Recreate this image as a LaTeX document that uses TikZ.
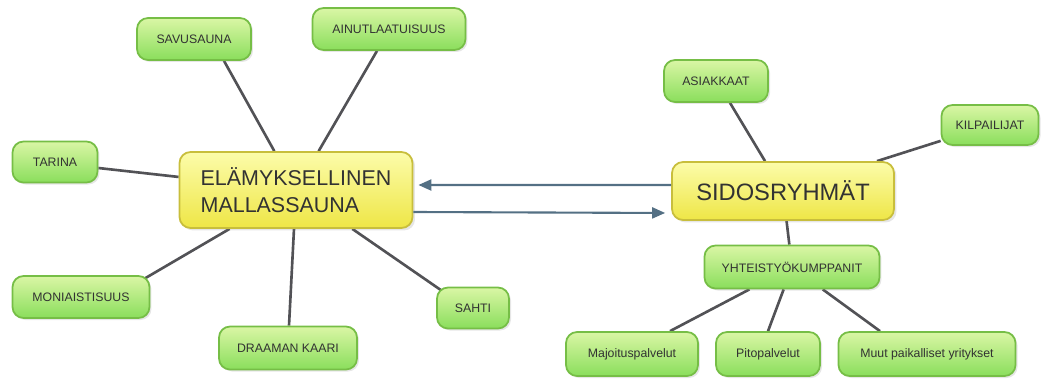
\documentclass[tikz,border=0pt]{standalone}
\usepackage{fontspec}
\setmainfont{Liberation Sans}
\usepackage{tikz}
\usetikzlibrary{arrows.meta,shadows,backgrounds}
\definecolor{LeafTop}{RGB}{218,246,165}
\definecolor{LeafBot}{RGB}{138,222,92}
\definecolor{LeafLine}{RGB}{118,190,70}
\definecolor{HubTop}{RGB}{252,252,170}
\definecolor{HubBot}{RGB}{238,230,70}
\definecolor{HubLine}{RGB}{200,190,60}
\definecolor{Spoke}{RGB}{82,82,86}
\definecolor{Link}{RGB}{84,112,132}
\definecolor{Ink}{RGB}{50,50,50}

\tikzset{
  leaf/.style={draw=LeafLine, line width=1pt, rounded corners=2.2mm,
    top color=LeafTop, bottom color=LeafBot, text=Ink, font=\fontsize{7}{9}\selectfont,
    inner sep=0pt, drop shadow={opacity=0.2, shadow xshift=0.4mm, shadow yshift=-0.4mm}},
  hub/.style={draw=HubLine, line width=1pt, rounded corners=2.2mm,
    top color=HubTop, bottom color=HubBot, text=Ink, inner sep=0pt,
    drop shadow={opacity=0.2, shadow xshift=0.5mm, shadow yshift=-0.5mm}},
  spoke/.style={Spoke, line width=1.5pt},
  link/.style={Link, line width=1.2pt, -{Triangle[length=2.6mm,width=2.2mm]}}
}

\begin{document}
\begin{tikzpicture}[x=0.02cm, y=-0.02cm]
  \useasboundingbox (0,0) rectangle (1050,379);

  % left cluster
  \node[hub, minimum width=4.66cm, minimum height=1.52cm, align=left,
        font=\fontsize{12.2}{15}\selectfont] (sauna) at (296,190)
        {ELÄMYKSELLINEN\\MALLASSAUNA};
  \node[leaf, minimum width=2.28cm, minimum height=0.84cm] (savu) at (194,39) {SAVUSAUNA};
  \node[leaf, minimum width=3.06cm, minimum height=0.84cm] (ainu) at (389,29) {AINUTLAATUISUUS};
  \node[leaf, minimum width=1.70cm, minimum height=0.82cm] (tarina) at (55,162) {TARINA};
  \node[leaf, minimum width=2.74cm, minimum height=0.84cm] (moni) at (81,297) {MONIAISTISUUS};
  \node[leaf, minimum width=2.76cm, minimum height=0.86cm] (draama) at (288,348) {DRAAMAN KAARI};
  \node[leaf, minimum width=1.44cm, minimum height=0.82cm] (sahti) at (473,308) {SAHTI};

  % right cluster
  \node[hub, minimum width=4.44cm, minimum height=1.16cm,
        font=\fontsize{13.5}{16}\selectfont] (sidos) at (783,191) {SIDOSRYHMÄT};
  \node[leaf, minimum width=2.08cm, minimum height=0.84cm] (asiakas) at (716,81) {ASIAKKAAT};
  \node[leaf, minimum width=1.94cm, minimum height=0.80cm] (kilpa) at (990,125) {KILPAILIJAT};
  \node[leaf, minimum width=3.50cm, minimum height=0.86cm] (yhteis) at (792,267) {YHTEISTYÖKUMPPANIT};
  \node[leaf, minimum width=2.64cm, minimum height=0.88cm] (majoitus) at (632,354) {Majoituspalvelut};
  \node[leaf, minimum width=2.08cm, minimum height=0.88cm] (pito) at (768,354) {Pitopalvelut};
  \node[leaf, minimum width=3.54cm, minimum height=0.88cm] (muut) at (927,354) {Muut paikalliset yritykset};

  \begin{scope}[on background layer]
    \draw[spoke] ([xshift=6mm]savu.south) -- (sauna);
    \draw[spoke] ([xshift=-2.4mm]ainu.south) -- (sauna);
    \draw[spoke] ([yshift=-1.2mm]tarina.east) -- (sauna);
    \draw[spoke] ([xshift=-1mm,yshift=-0.6mm]moni.north east) -- (sauna);
    \draw[spoke] ([xshift=0.2mm]draama.north) -- (sauna);
    \draw[spoke] ([xshift=1.4mm,yshift=-1mm]sahti.north west) -- (sauna);
    \draw[spoke] ([xshift=2.8mm]asiakas.south) -- (sidos);
    \draw[spoke] ([yshift=1mm]kilpa.south west) -- (sidos);
    \draw[spoke] (yhteis) -- (sidos);
    \draw[spoke] ([xshift=7.6mm]majoitus.north) -- (yhteis);
    \draw[spoke] (pito.north) -- (yhteis);
    \draw[spoke] ([xshift=-9.4mm]muut.north) -- (yhteis);
  \end{scope}

  \draw[link, shorten >=1mm] ([yshift=1.2mm]sidos.west) -- ([yshift=1mm]sauna.east);
  \draw[link, shorten >=1.2mm] ([yshift=-4.4mm]sauna.east) -- ([yshift=-4.4mm]sidos.west);
\end{tikzpicture}
\end{document}
